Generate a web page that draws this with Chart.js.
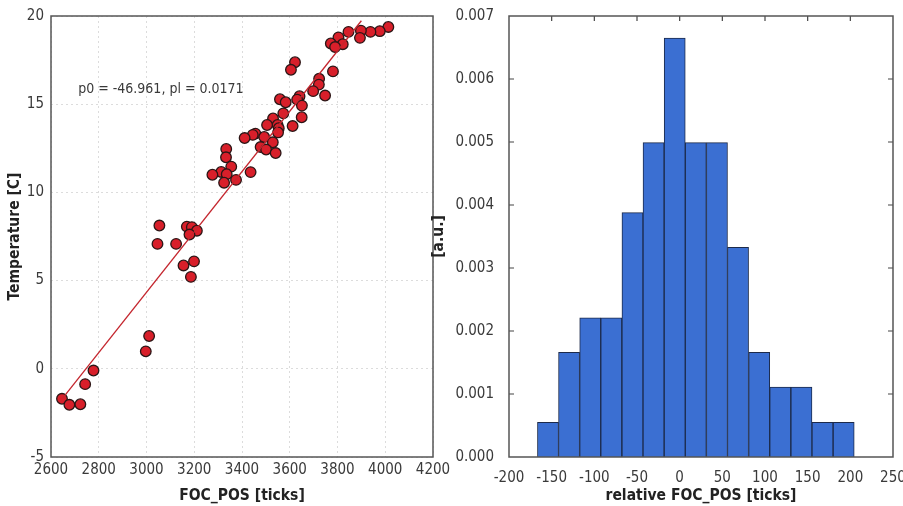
<!DOCTYPE html>
<html>
<head>
<meta charset="utf-8">
<script src="https://cdn.jsdelivr.net/npm/chart.js@4.4.0/dist/chart.umd.min.js"></script>
<style>
  html, body { margin: 0; padding: 0; background: #fff; overflow: hidden; width: 903px; height: 506px; position: relative; }
  canvas { position: absolute; top: 0; }
  #left { left: 0; }
  #right { left: 428px; }
</style>
</head>
<body>
<canvas id="left" width="470" height="506"></canvas>
<canvas id="right" width="488" height="506"></canvas>
<script>
// left panel: temperature vs focuser position
const focPos = [4013, 3977, 3938, 3898, 3894, 3846, 3804, 3822, 3772, 3790,
  3781, 3622, 3605, 3723, 3722, 3698, 3748, 3641, 3631, 3651,
  3650, 3612, 3559, 3583, 3573, 3530, 3549, 3505, 3554, 3551,
  3456, 3445, 3411, 3493, 3529, 3478, 3501, 3541, 3334, 3333,
  3355, 3313, 3276, 3336, 3325, 3375, 3436, 3054, 3046, 3124,
  3169, 3190, 3211, 3180, 3155, 3199, 3186, 3011, 2997, 2778,
  2743, 2646, 2677, 2723];
const temperature = [19.38, 19.14, 19.10, 19.17, 18.76, 19.10, 18.79, 18.40, 18.44, 18.24,
  16.86, 17.38, 16.95, 16.44, 16.11, 15.74, 15.49, 15.45, 15.26, 14.92,
  14.26, 13.76, 15.28, 15.11, 14.48, 14.19, 13.82, 13.82, 13.64, 13.40,
  13.33, 13.26, 13.08, 13.14, 12.84, 12.57, 12.43, 12.23, 12.46, 11.99,
  11.46, 11.16, 11.00, 11.03, 10.55, 10.71, 11.15, 8.12, 7.08, 7.08,
  8.06, 8.03, 7.83, 7.61, 5.86, 6.09, 5.21, 1.86, 0.99, -0.10,
  -0.87, -1.70, -2.04, -2.01];
const fitX = [2650, 3900];
const fitY = [-1.65, 19.73];
const fitText = "p0 = -46.961, pl = 0.0171";
const fitTextAt = [2714, 15.83];

// right panel: histogram of relative position
const binCenters = [-154.3, -129.6, -104.8, -80.1, -55.3, -30.6, -5.8, 18.9,
  43.7, 68.4, 93.2, 117.9, 142.7, 167.4, 192.2];
const density = [0.00055, 0.00166, 0.00221, 0.00221, 0.00388, 0.00499, 0.00665, 0.00499,
  0.00499, 0.00333, 0.00166, 0.00111, 0.00111, 0.00055, 0.00055];

const FONT = "'Liberation Sans Narrow', 'Arial Narrow', 'DejaVu Sans Condensed', sans-serif";
const TICK_FONT = { family: FONT, size: 15 };
const TITLE_FONT = { family: FONT, size: 15.5, weight: 'bold' };
const TEXT = '#3a3a3a';

const frame = {
  id: 'frame',
  afterDraw(chart) {
    const a = chart.chartArea, ctx = chart.ctx;
    ctx.save();
    ctx.strokeStyle = '#555';
    ctx.lineWidth = 1.5;
    ctx.strokeRect(a.left, a.top, a.right - a.left, a.bottom - a.top);
    ctx.restore();
  }
};

const fitLabel = {
  id: 'fitLabel',
  afterDatasetsDraw(chart) {
    const ctx = chart.ctx;
    const x = chart.scales.x.getPixelForValue(fitTextAt[0]);
    const y = chart.scales.y.getPixelForValue(fitTextAt[1]);
    ctx.save();
    ctx.font = "14px " + FONT;
    ctx.fillStyle = TEXT;
    ctx.textAlign = 'left';
    ctx.textBaseline = 'middle';
    ctx.fillText(fitText, x, y);
    ctx.restore();
  }
};

const innerTicks = {
  id: 'innerTicks',
  beforeDatasetsDraw(chart) {
    const a = chart.chartArea, ctx = chart.ctx;
    const len = 5;
    ctx.save();
    ctx.strokeStyle = '#444';
    ctx.lineWidth = 1.2;
    ctx.beginPath();
    chart.scales.x.ticks.forEach(t => {
      const px = chart.scales.x.getPixelForValue(t.value);
      if (px <= a.left + 1 || px >= a.right - 1) return;
      ctx.moveTo(px, a.top); ctx.lineTo(px, a.top + len);
      ctx.moveTo(px, a.bottom); ctx.lineTo(px, a.bottom - len);
    });
    chart.scales.y.ticks.forEach(t => {
      const py = chart.scales.y.getPixelForValue(t.value);
      if (py <= a.top + 1 || py >= a.bottom - 1) return;
      ctx.moveTo(a.left, py); ctx.lineTo(a.left + len, py);
      ctx.moveTo(a.right, py); ctx.lineTo(a.right - len, py);
    });
    ctx.stroke();
    ctx.restore();
  }
};

new Chart(document.getElementById('left'), {
  type: 'scatter',
  data: {
    datasets: [
      {
        data: fitX.map((x, i) => ({ x, y: fitY[i] })),
        showLine: true,
        borderColor: '#c4262e',
        borderWidth: 1.3,
        pointRadius: 0
      },
      {
        data: focPos.map((x, i) => ({ x, y: temperature[i] })),
        backgroundColor: '#d81f2a',
        borderColor: '#2b1616',
        borderWidth: 1.3,
        pointRadius: 5.3
      }
    ]
  },
  options: {
    responsive: false,
    animation: false,
    layout: { padding: { top: 16, right: 37, left: 0, bottom: 0 } },
    plugins: { legend: { display: false }, tooltip: { enabled: false } },
    scales: {
      x: {
        type: 'linear', min: 2600, max: 4200,
        ticks: { stepSize: 200, color: TEXT, font: TICK_FONT, padding: 4, maxRotation: 0, callback: v => String(v) },
        grid: { color: '#dcdcdc', drawTicks: false },
        border: { display: false, dash: [2, 3] },
        title: { display: true, text: 'FOC_POS [ticks]', color: '#222', font: TITLE_FONT, padding: { top: 0, bottom: 1 } },
        afterFit: s => { s.height = 49; }
      },
      y: {
        min: -5, max: 20,
        ticks: { stepSize: 5, color: TEXT, font: TICK_FONT, padding: 7, callback: v => String(v) },
        grid: { color: '#dcdcdc', drawTicks: false },
        border: { display: false, dash: [2, 3] },
        title: { display: true, text: 'Temperature [C]', color: '#222', font: TITLE_FONT, padding: { top: 6, bottom: 0 } },
        afterFit: s => { s.width = 51; }
      }
    }
  },
  plugins: [frame, fitLabel]
});

new Chart(document.getElementById('right'), {
  type: 'bar',
  data: {
    datasets: [{
      data: binCenters.map((x, i) => ({ x, y: density[i] })),
      backgroundColor: '#3b6fd2',
      borderColor: '#1c2a4a',
      borderWidth: 1,
      barPercentage: 1,
      categoryPercentage: 1
    }]
  },
  options: {
    responsive: false,
    animation: false,
    layout: { padding: { top: 16, right: 23, left: 0, bottom: 0 } },
    plugins: { legend: { display: false }, tooltip: { enabled: false } },
    scales: {
      x: {
        type: 'linear', min: -200, max: 250, offset: false,
        ticks: { stepSize: 50, color: TEXT, font: TICK_FONT, padding: 4, maxRotation: 0, callback: v => String(v) },
        grid: { display: false },
        border: { display: false },
        title: { display: true, text: 'relative FOC_POS [ticks]', color: '#222', font: TITLE_FONT, padding: { top: 0, bottom: 1 } },
        afterFit: s => { s.height = 49; }
      },
      y: {
        min: 0, max: 0.007,
        ticks: { stepSize: 0.001, color: TEXT, font: TICK_FONT, padding: 7, callback: v => v.toFixed(3) },
        grid: { display: false },
        border: { display: false },
        title: { display: true, text: '[a.u.]', color: '#222', font: TITLE_FONT, padding: { top: 2, bottom: 0 } },
        afterFit: s => { s.width = 81; }
      }
    }
  },
  plugins: [innerTicks, frame]
});
</script>
</body>
</html>
